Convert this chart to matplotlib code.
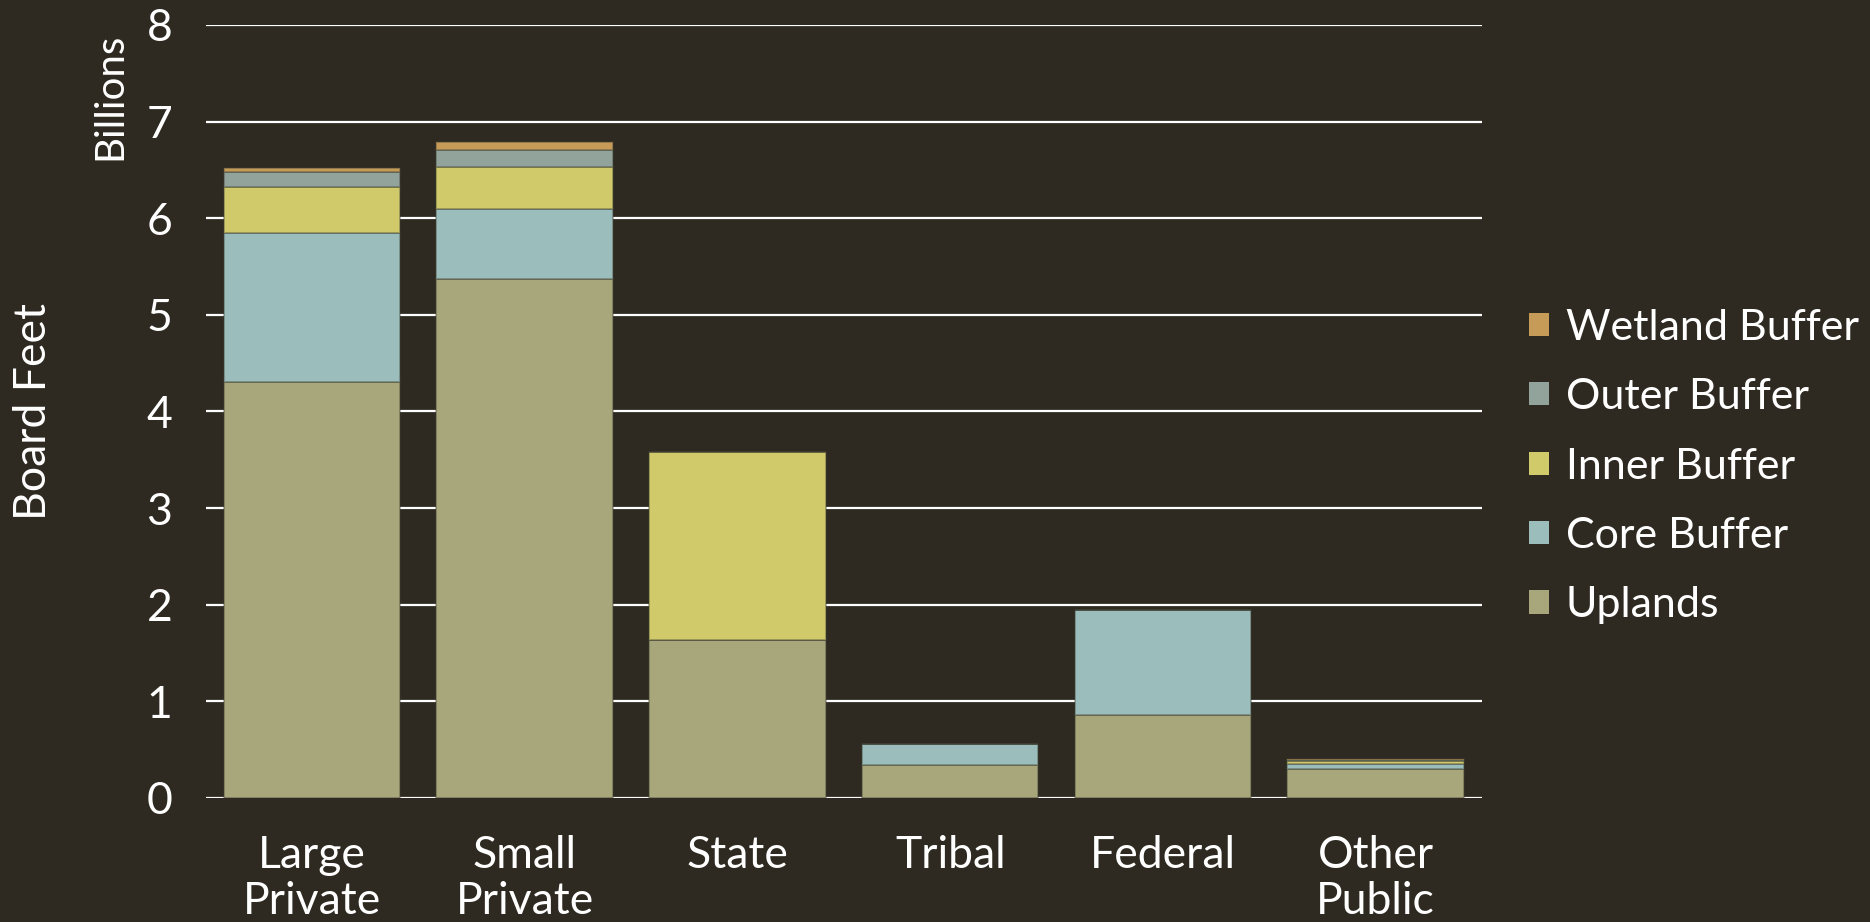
import numpy as np
import matplotlib.pyplot as plt
from matplotlib.patches import Patch

plt.rcParams["font.family"] = ["Lato", "DejaVu Sans"]

categories = ["Large\nPrivate", "Small\nPrivate", "State", "Tribal", "Federal", "Other\nPublic"]
series_names = ["Uplands", "Core Buffer", "Inner Buffer", "Outer Buffer", "Wetland Buffer"]

# billions of board feet
uplands = [4.31, 5.37, 1.64, 0.345, 0.855, 0.30]
core_buffer = [1.54, 0.73, 0.0, 0.21, 1.095, 0.05]
inner_buffer = [0.47, 0.43, 1.945, 0.0, 0.0, 0.03]
outer_buffer = [0.16, 0.18, 0.0, 0.0, 0.0, 0.015]
wetland_buffer = [0.04, 0.08, 0.0, 0.0, 0.0, 0.005]

colors = ["#A8A67B", "#9BBDBC", "#D1CA6B", "#91A39A", "#C69B57"]
bg = "#2E2A21"

fig = plt.figure(figsize=(18.7, 9.22), dpi=100, facecolor=bg)
ax = fig.add_axes([0.110, 0.1345, 0.6825, 0.8384])
ax.set_facecolor(bg)

x = np.arange(len(categories))
bottom = np.zeros(len(categories))
handles = []
for name, vals, c in zip(series_names,
                         [uplands, core_buffer, inner_buffer, outer_buffer, wetland_buffer],
                         colors):
    vals = np.array(vals)
    ax.bar(x, vals, bottom=bottom, width=0.83, color=c,
           edgecolor=(0.25, 0.25, 0.2, 0.45), linewidth=1.2, zorder=3)
    bottom += vals
    handles.append(Patch(facecolor=c, edgecolor="none", label=name))

ax.set_xlim(-0.5, len(categories) - 0.5)
ax.set_ylim(0, 8)
ax.set_yticks(range(0, 9))
ax.grid(axis="y", color="white", linewidth=1.6, zorder=0)
ax.set_axisbelow(True)
for s in ax.spines.values():
    s.set_visible(False)
ax.tick_params(axis="both", length=0, colors="white", labelsize=32)
ax.tick_params(axis="y", pad=24)
ax.tick_params(axis="x", pad=27)
ax.set_xticks(x)
ax.set_xticklabels(categories, linespacing=1.15)

fig.text(0.018, 0.554, "Board Feet", rotation=90, color="white",
         fontsize=32, ha="center", va="center")
fig.text(0.059, 0.965, "Billions", rotation=90, color="white",
         fontsize=29, ha="center", va="top")

leg = fig.legend(handles=handles[::-1], loc="center left",
                 bbox_to_anchor=(0.797, 0.494), frameon=False,
                 fontsize=31, labelcolor="white", handlelength=0.45,
                 handleheight=0.45, handletextpad=0.4, labelspacing=0.73)

fig.savefig("out.png", dpi=100, facecolor=bg)
